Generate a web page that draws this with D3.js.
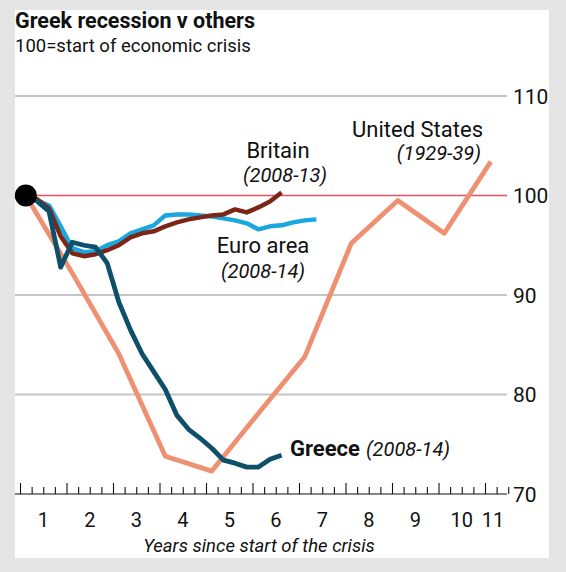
<!DOCTYPE html>
<html>
<head>
<meta charset="utf-8">
<script src="https://cdn.jsdelivr.net/npm/d3@7"></script>
<style>
  html, body { margin: 0; padding: 0; background: #e5e5e5; }
  svg { display: block; }
  text { font-family: Roboto, "Noto Sans", sans-serif; fill: #111; }
</style>
</head>
<body>
<svg id="chart" width="566" height="572"></svg>
<script>
// ---- data ----
const yearLabels = ["1","2","3","4","5","6","7","8","9","10","11"];
const yTicks = [70, 80, 90, 100, 110];
// quarterly series (index 0 = start of crisis)
const greece = [100, 99.4, 98.4, 92.8, 95.3, 95.0, 94.8, 93.2, 89.3, 86.5, 84.1, 82.3, 80.5, 77.9, 76.5, 75.6, 74.6, 73.4, 73.1, 72.7, 72.7, 73.5, 73.9];
const britain = [100, 99.6, 98.7, 95.9, 94.2, 93.9, 94.1, 94.5, 95.0, 95.8, 96.2, 96.4, 96.9, 97.3, 97.6, 97.8, 98.0, 98.1, 98.6, 98.3, 98.8, 99.4, 100.3];
const euroArea = [100, 99.5, 99.0, 96.9, 94.7, 94.3, 94.4, 95.0, 95.4, 96.2, 96.6, 97.0, 98.0, 98.1, 98.1, 98.0, 97.9, 97.7, 97.5, 97.2, 96.6, 96.9, 97.0, 97.3, 97.5, 97.6];
// annual series
const unitedStates = [100, 92.2, 84.1, 73.8, 72.3, 78.1, 83.8, 95.2, 99.5, 96.2, 103.4];

const svg = d3.select("#chart");
// white panel
svg.append("rect").attr("x", 15).attr("y", 10).attr("width", 534).attr("height", 548).attr("fill", "#fff");

const x = d3.scaleLinear().domain([0, 11]).range([20, 531.5]);
const y = d3.scaleLinear().domain([70, 110]).range([494, 96]);
const gridLeft = 15, gridRight = 507;

// gridlines
svg.append("g").selectAll("line").data(yTicks.filter(v => v !== 70)).join("line")
  .attr("x1", gridLeft).attr("x2", gridRight)
  .attr("y1", d => y(d)).attr("y2", d => y(d))
  .attr("stroke", d => d === 100 ? "#e8505b" : "#c3c3c8")
  .attr("stroke-width", d => d === 100 ? 1.6 : 2);

// y labels
svg.append("g").selectAll("text").data(yTicks).join("text")
  .attr("x", 513).attr("y", d => y(d)).attr("dy", "0.36em")
  .attr("font-size", 21).text(d => d);

// x axis: baseline and ticks
svg.append("line").attr("x1", gridLeft).attr("x2", gridRight)
  .attr("y1", y(70)).attr("y2", y(70)).attr("stroke", "#111").attr("stroke-width", 1.2);
const quarters = d3.range(0, 43).map(i => i / 4);
const minorAx = d3.axisBottom(x).tickValues(quarters.filter(q => q % 1 !== 0)).tickSize(-7).tickFormat("");
const majorAx = d3.axisBottom(x).tickValues(quarters.filter(q => q % 1 === 0)).tickSize(-11).tickFormat("");
[minorAx, majorAx].forEach(ax => {
  const g = svg.append("g").attr("transform", `translate(0,${y(70)})`).call(ax);
  g.select(".domain").remove();
  g.selectAll("line").attr("stroke", "#111").attr("stroke-width", 1.1);
});
svg.append("g").selectAll("text").data(yearLabels).join("text")
  .attr("x", (d, i) => i === 10 ? x(10.17) : x(i + 0.5))
  .attr("y", 527).attr("text-anchor", "middle").attr("font-size", 20).text(d => d);
svg.append("text").attr("x", 259).attr("y", 552).attr("text-anchor", "middle")
  .attr("font-style", "italic").attr("font-size", 18.5).text("Years since start of the crisis");

// lines
const qT = i => 0.125 + i * 0.25;
const aT = i => 0.125 + i;
const line = d3.line().x(d => x(d[0])).y(d => y(d[1])).curve(d3.curveLinear);
const series = [
  { data: unitedStates.map((v, i) => [aT(i), v]), color: "#ee9072", w: 4.8 },
  { data: euroArea.map((v, i) => [qT(i), v]), color: "#1aa7df", w: 4.5 },
  { data: britain.map((v, i) => [qT(i), v]), color: "#7b2617", w: 4.5 },
  { data: greece.map((v, i) => [qT(i), v]), color: "#0e4f69", w: 4.8 }
];
svg.append("g").selectAll("path").data(series).join("path")
  .attr("d", d => line(d.data)).attr("fill", "none")
  .attr("stroke", d => d.color).attr("stroke-width", d => d.w)
  .attr("stroke-linejoin", "round");

// start dot
svg.append("circle").attr("cx", x(qT(0))).attr("cy", y(100)).attr("r", 11).attr("fill", "#000");

// titles
svg.append("text").attr("x", 15).attr("y", 28).attr("font-size", 21.5).attr("font-weight", "bold").text("Greek recession v others");
svg.append("text").attr("x", 15).attr("y", 52).attr("font-size", 18.5).text("100=start of economic crisis");

// annotations
const ann = svg.append("g");
ann.append("text").attr("x", 278).attr("y", 158).attr("text-anchor", "middle").attr("font-size", 22).text("Britain");
ann.append("text").attr("x", 285).attr("y", 182).attr("text-anchor", "middle").attr("font-size", 20).attr("font-style", "italic").text("(2008-13)");
ann.append("text").attr("x", 263).attr("y", 253).attr("text-anchor", "middle").attr("font-size", 22).text("Euro area");
ann.append("text").attr("x", 263).attr("y", 278).attr("text-anchor", "middle").attr("font-size", 20).attr("font-style", "italic").text("(2008-14)");
ann.append("text").attr("x", 483).attr("y", 137).attr("text-anchor", "end").attr("font-size", 22).text("United States");
ann.append("text").attr("x", 481).attr("y", 160).attr("text-anchor", "end").attr("font-size", 20).attr("font-style", "italic").text("(1929-39)");
const gr = ann.append("text").attr("x", 290).attr("y", 456).attr("font-size", 22);
gr.append("tspan").attr("font-weight", "bold").text("Greece");
gr.append("tspan").attr("font-size", 20).attr("font-style", "italic").attr("dx", 6).text("(2008-14)");
</script>
</body>
</html>
